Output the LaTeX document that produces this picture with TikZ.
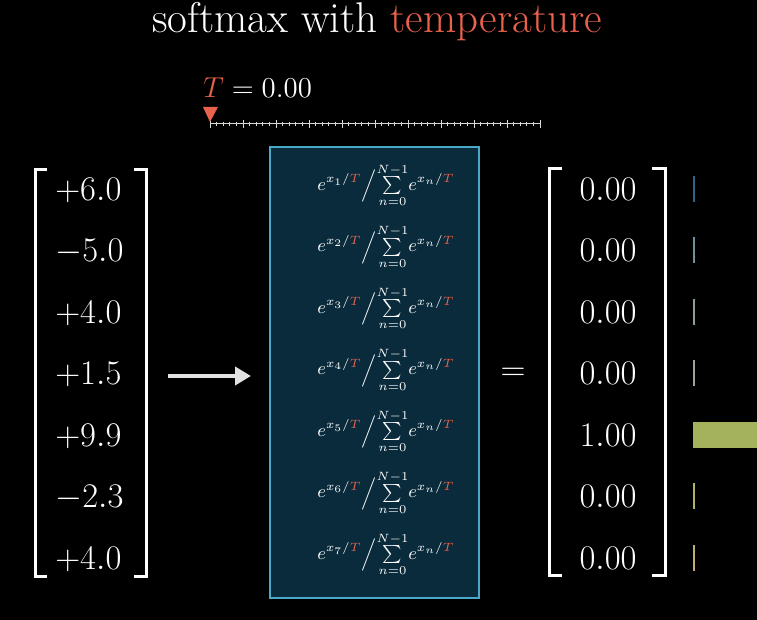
\documentclass[tikz,border=0pt]{standalone}
\usepackage{amsmath}
\usetikzlibrary{arrows.meta}

\definecolor{tempred}{HTML}{E8624C}
\definecolor{boxfill}{HTML}{0A2B3B}
\definecolor{boxline}{HTML}{4AA8C8}
\definecolor{arrowgray}{HTML}{E2E2E2}
\definecolor{barA}{HTML}{2F6482}
\definecolor{barB}{HTML}{6F8F9C}
\definecolor{barC}{HTML}{8C9E9A}
\definecolor{barD}{HTML}{9CA68E}
\definecolor{barE}{HTML}{A5B25C}
\definecolor{barF}{HTML}{B3B06A}
\definecolor{barG}{HTML}{C0AE70}

\newcommand{\tT}{\textcolor{tempred}{T}}

\tikzset{
  entry/.style={text=white,inner sep=0pt,font=\fontsize{17.4}{21}\selectfont},
  formula/.style={text=white,inner sep=0pt,font=\fontsize{9}{11}\selectfont},
  brack/.style={draw=white,line width=1.5pt},
  tick/.style={draw=white!85!black,line width=0.5pt},
  bar/.style={inner sep=0pt,minimum height=13pt,anchor=west}
}

\begin{document}
\begin{tikzpicture}[x=0.5pt,y=-0.5pt]
  \useasboundingbox (0,0) rectangle (757,620);
  \fill[black] (0,0) rectangle (757,620);

  \node[anchor=base,text=white,inner sep=0pt,font=\fontsize{21.5}{26}\selectfont] (title) at (377,33)
    {softmax with \textcolor{tempred}{temperature}};

  % slider
  \node[anchor=base west,entry,font=\fontsize{15.5}{19}\selectfont] (tval) at (203,98) {$\tT = 0.00$};
  \coordinate (s0) at (210,124);
  \coordinate (s1) at (540,124);
  \draw[tick] (s0) -- (s1);
  \foreach \i in {0,...,50}
    \draw[tick] (210+\i*6.6,122) -- ++(0,4);
  \foreach \i in {0,...,10}
    \draw[tick] (210+\i*33,120) -- ++(0,8);
  \fill[tempred] (203,107) -- (218,107) -- (210,122) -- cycle;

  % input vector
  \draw[brack] (47,170) -- (35,170) -- (35,577) -- (47,577);
  \draw[brack] (134,170) -- (146,170) -- (146,577) -- (134,577);
  \foreach \v [count=\i] in {+6.0,-5.0,+4.0,+1.5,+9.9,-2.3,+4.0}
    \node[entry,anchor=base west] (x\i) at (55,139+\i*61.5) {$\v$};

  \coordinate (arrS) at (168,376);
  \coordinate (arrE) at (251,376);
  \draw[arrowgray,line width=2pt,-{Triangle[length=8pt,width=9pt]}] (arrS) -- (arrE);

  % softmax box
  \node[draw=boxline,fill=boxfill,line width=0.8pt,minimum width=104.5pt,minimum height=225.5pt] (fbox) at (374.5,372.5) {};
  \foreach \i in {1,...,7}
    \node[formula] (f\i) at (386,124+\i*61.5)
      {$e^{x_{\i}/\tT}\Big/\!\sum\limits_{n=0}^{N-1}\!e^{x_n/\tT}$};

  \node[entry] (eq) at (513,374) {$=$};

  % output vector
  \draw[brack] (562,169) -- (549,169) -- (549,576) -- (562,576);
  \draw[brack] (652,169) -- (665,169) -- (665,576) -- (652,576);
  \foreach \v [count=\i] in {0.00,0.00,0.00,0.00,1.00,0.00,0.00}
    \node[entry,anchor=base] (p\i) at (608,139+\i*61.5) {$\v$};

  % bars
  \foreach \i/\c in {1/barA,2/barB,3/barC,4/barD,6/barF,7/barG}
    \node[bar,fill=\c,minimum width=1pt] (bar\i) at (693,127.5+\i*61.5) {};
  \node[bar,fill=barE,minimum width=40pt] (bar5) at (693,435) {};
\end{tikzpicture}
\end{document}
